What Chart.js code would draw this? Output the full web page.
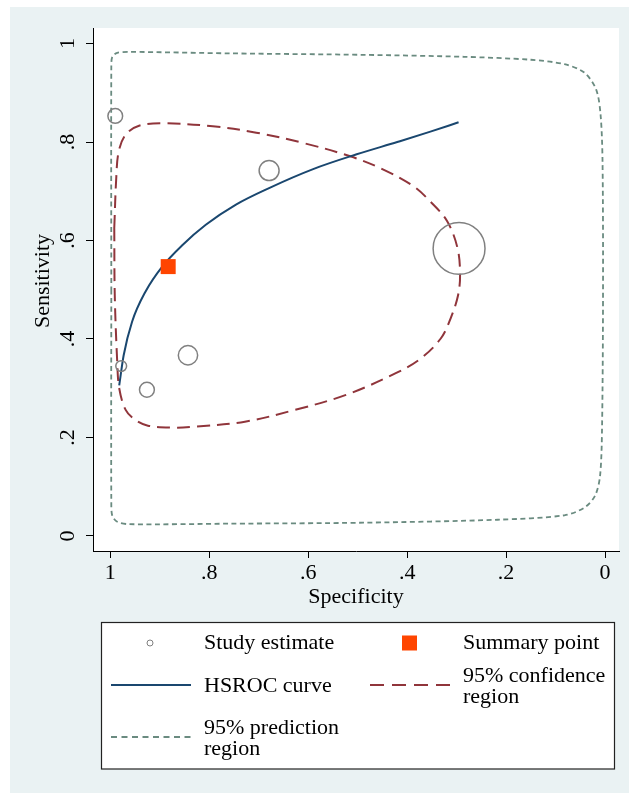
<!DOCTYPE html>
<html lang="en">
<head>
<meta charset="utf-8">
<title>HSROC plot</title>
<script src="https://cdn.jsdelivr.net/npm/chart.js@4.4.1/dist/chart.umd.min.js"></script>
<style>
  html, body { margin: 0; padding: 0; background: #fff; overflow: hidden; }
  canvas { display: block; }
</style>
</head>
<body>
<canvas id="sroc" width="629" height="794"></canvas>
<script>
// axis ticks
var tickValues = [0, 0.2, 0.4, 0.6, 0.8, 1];
var tickLabels = ['0', '.2', '.4', '.6', '.8', '1'];

// individual studies (specificity, sensitivity, relative weight %)
var studySpec   = [0.990, 0.679, 0.295, 0.843, 0.978, 0.926];
var studySens   = [0.853, 0.742, 0.584, 0.367, 0.345, 0.297];
var studyWeight = [5.4, 9.9, 67.0, 9.3, 2.9, 5.5];

// summary operating point
var summarySpec = [0.883];
var summarySens = [0.547];

// HSROC curve
var curveSpec = [0.982, 0.973, 0.956, 0.929, 0.895, 0.854, 0.807, 0.746, 0.678, 0.590, 0.502, 0.420, 0.353, 0.296];
var curveSens = [0.306, 0.367, 0.435, 0.496, 0.547, 0.591, 0.632, 0.673, 0.707, 0.745, 0.775, 0.800, 0.821, 0.840];

// 95% confidence region (closed)
var confSpec = [0.992, 0.991, 0.986, 0.982, 0.969, 0.950, 0.924, 0.876, 0.829, 0.728, 0.627, 0.525, 0.424, 0.373, 0.332, 0.312, 0.297, 0.293, 0.298, 0.319, 0.353, 0.387, 0.448, 0.515, 0.610, 0.705, 0.793, 0.895, 0.942, 0.969, 0.983, 0.988, 0.992];
var confSens = [0.625, 0.489, 0.353, 0.300, 0.256, 0.236, 0.224, 0.220, 0.222, 0.232, 0.256, 0.286, 0.330, 0.360, 0.401, 0.442, 0.489, 0.530, 0.584, 0.639, 0.679, 0.710, 0.744, 0.771, 0.798, 0.819, 0.832, 0.838, 0.833, 0.815, 0.781, 0.727, 0.625];

// 95% prediction region (closed)
var predSpec = [0.998, 0.998, 0.996, 0.986, 0.963, 0.759, 0.488, 0.217, 0.082, 0.041, 0.020, 0.010, 0.006, 0.004, 0.005, 0.009, 0.018, 0.042, 0.082, 0.150, 0.285, 0.488, 0.759, 0.963, 0.986, 0.996, 0.998, 0.998];
var predSens = [0.500, 0.068, 0.041, 0.029, 0.024, 0.025, 0.027, 0.033, 0.042, 0.058, 0.082, 0.122, 0.218, 0.489, 0.761, 0.856, 0.907, 0.941, 0.958, 0.967, 0.973, 0.977, 0.980, 0.983, 0.981, 0.973, 0.951, 0.500];

var FONT = '"Liberation Serif", "Times New Roman", serif';
var NAVY = '#1a476f', MAROON = '#90353b', SAGE = '#6a8b80', GREY = '#808080', ORANGE = '#ff4500';

function pts(xs, ys) {
    return xs.map(function (x, i) { return { x: x, y: ys[i] }; });
}

var backdrop = {
    id: 'backdrop',
    beforeDraw: function (chart) {
        var ctx = chart.ctx, a = chart.chartArea;
        ctx.save();
        ctx.fillStyle = '#ffffff';
        ctx.fillRect(0, 0, chart.width, chart.height);
        ctx.fillStyle = '#eaf2f3';
        ctx.fillRect(10, 7, chart.width - 10, chart.height - 8);
        ctx.fillStyle = '#ffffff';
        ctx.fillRect(a.left, a.top, a.right - a.left, a.bottom - a.top);
        ctx.restore();
    }
};

// stata style rotated y labels
var yLabels = {
    id: 'yLabels',
    afterDraw: function (chart) {
        var ctx = chart.ctx, ys = chart.scales.y;
        ctx.save();
        ctx.fillStyle = '#000';
        ctx.font = '22px ' + FONT;
        ctx.textAlign = 'center';
        ctx.textBaseline = 'middle';
        tickValues.forEach(function (v, i) {
            ctx.save();
            ctx.translate(68, ys.getPixelForValue(v));
            ctx.rotate(-Math.PI / 2);
            ctx.fillText(tickLabels[i], 0, 0);
            ctx.restore();
        });
        ctx.translate(43, 281);
        ctx.rotate(-Math.PI / 2);
        ctx.fillText('Sensitivity', 0, 0);
        ctx.restore();
    }
};

var legendBox = {
    id: 'legendBox',
    afterDraw: function (chart) {
        var ctx = chart.ctx;
        ctx.save();
        ctx.fillStyle = '#fff';
        ctx.fillRect(102, 623, 513, 146);
        ctx.strokeStyle = '#222';
        ctx.lineWidth = 1.2;
        ctx.strokeRect(101.5, 622.5, 513, 146.5);

        // symbols
        ctx.strokeStyle = GREY;
        ctx.lineWidth = 1;
        ctx.beginPath();
        ctx.arc(150, 643, 3, 0, Math.PI * 2);
        ctx.stroke();

        ctx.fillStyle = ORANGE;
        ctx.fillRect(402, 635.5, 15, 15);

        ctx.strokeStyle = NAVY;
        ctx.lineWidth = 2;
        ctx.beginPath(); ctx.moveTo(111, 685); ctx.lineTo(191, 685); ctx.stroke();

        ctx.strokeStyle = MAROON;
        ctx.setLineDash([14, 8]);
        ctx.beginPath(); ctx.moveTo(370, 685); ctx.lineTo(450, 685); ctx.stroke();

        ctx.strokeStyle = SAGE;
        ctx.lineWidth = 1.8;
        ctx.setLineDash([6, 4.5]);
        ctx.beginPath(); ctx.moveTo(111, 737); ctx.lineTo(191, 737); ctx.stroke();
        ctx.setLineDash([]);

        // text
        ctx.fillStyle = '#000';
        ctx.font = '22px ' + FONT;
        ctx.textAlign = 'left';
        ctx.textBaseline = 'middle';
        ctx.fillText('Study estimate', 204, 643);
        ctx.fillText('Summary point', 463, 643);
        ctx.fillText('HSROC curve', 204, 686);
        ctx.fillText('95% confidence', 463, 676);
        ctx.fillText('region', 463, 697);
        ctx.fillText('95% prediction', 204, 728);
        ctx.fillText('region', 204, 749);
        ctx.restore();
    }
};

function axisOpts(extra) {
    var o = {
        type: 'linear',
        afterBuildTicks: function (s) {
            s.ticks = tickValues.map(function (v) { return { value: v }; });
        },
        grid: { drawOnChartArea: false, drawTicks: true, tickLength: 7, color: '#000', lineWidth: 1 },
        border: { display: true, color: '#000', width: 1 }
    };
    for (var k in extra) o[k] = extra[k];
    return o;
}

new Chart(document.getElementById('sroc'), {
    type: 'scatter',
    data: {
        datasets: [{
            label: 'Summary point',
            data: pts(summarySpec, summarySens),
            pointStyle: 'rect',
            pointRadius: 10.6,
            pointHoverRadius: 10.6,
            backgroundColor: ORANGE,
            borderWidth: 0,
            order: 0
        }, {
            label: 'Study estimate',
            data: pts(studySpec, studySens),
            pointRadius: studyWeight.map(function (w) { return 3.17 * Math.sqrt(w); }),
            backgroundColor: 'rgba(0,0,0,0)',
            borderColor: GREY,
            borderWidth: 1.5,
            order: 1
        }, {
            label: 'HSROC curve',
            data: pts(curveSpec, curveSens),
            showLine: true,
            cubicInterpolationMode: 'monotone',
            borderColor: NAVY,
            borderWidth: 2,
            pointRadius: 0,
            order: 2
        }, {
            label: '95% confidence region',
            data: pts(confSpec, confSens),
            showLine: true,
            tension: 0.35,
            borderColor: MAROON,
            borderWidth: 2,
            borderDash: [13, 7],
            pointRadius: 0,
            order: 3
        }, {
            label: '95% prediction region',
            data: pts(predSpec, predSens),
            showLine: true,
            tension: 0.3,
            borderColor: SAGE,
            borderWidth: 1.8,
            borderDash: [5, 3.5],
            pointRadius: 0,
            order: 4
        }]
    },
    options: {
        responsive: false,
        animation: false,
        layout: { autoPadding: false, padding: { left: 0, right: 10, top: 28, bottom: 173 } },
        plugins: {
            legend: { display: false },
            tooltip: { enabled: false }
        },
        scales: {
            x: axisOpts({
                reverse: true,
                min: -0.0283,
                max: 1.035,
                afterFit: function (s) {
                    s.height = 70;
                    s.paddingLeft = 0;
                    s.paddingRight = 0;
                },
                ticks: {
                    color: '#000',
                    font: { family: FONT, size: 22 },
                    padding: 2,
                    maxRotation: 0,
                    callback: function (v, i) { return tickLabels[i]; }
                },
                title: {
                    display: true,
                    text: 'Specificity',
                    color: '#000',
                    font: { family: FONT, size: 22 },
                    padding: { top: 0, bottom: 11 }
                }
            }),
            y: axisOpts({
                min: -0.0305,
                max: 1.0315,
                afterFit: function (s) {
                    s.width = 93;
                    s.paddingTop = 0;
                    s.paddingBottom = 0;
                },
                ticks: { display: false }
            })
        }
    },
    plugins: [backdrop, yLabels, legendBox]
});
</script>
</body>
</html>
